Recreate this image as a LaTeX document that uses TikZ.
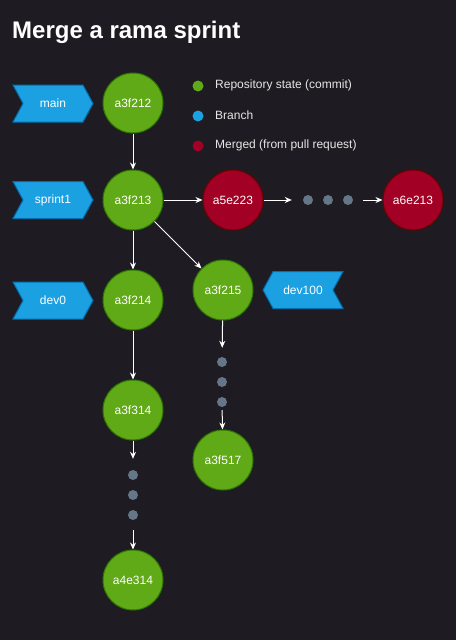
\documentclass[tikz,border=0pt]{standalone}
\usepackage{fontspec}
\setmainfont{Liberation Sans}
\usetikzlibrary{shapes.symbols,arrows.meta}
\definecolor{bgdark}{HTML}{1E1C22}
\definecolor{commitfill}{HTML}{60A917}
\definecolor{commitline}{HTML}{2D7600}
\definecolor{mergefill}{HTML}{A20025}
\definecolor{mergeline}{HTML}{6F0000}
\definecolor{branchfill}{HTML}{1BA1E2}
\definecolor{branchline}{HTML}{006EAF}
\definecolor{dotgray}{HTML}{647687}
\definecolor{legendtext}{HTML}{E6E6E6}

\begin{document}
\begin{tikzpicture}[x=1pt,y=-1pt,>={Stealth[length=7pt,width=6pt]},
    commit/.style={circle,draw=commitline,fill=commitfill,line width=1pt,
      minimum size=60pt,inner sep=0pt,text=white,font=\fontsize{12}{14}\selectfont},
    merged/.style={commit,draw=mergeline,fill=mergefill},
    branch/.style={signal,signal from=west,signal to=east,signal pointer angle=123,
      draw=branchline,fill=branchfill,line width=1pt,minimum width=80pt,minimum height=37pt,
      inner sep=0pt,text=white,font=\fontsize{12}{14}\selectfont},
    branchback/.style={branch,signal from=east,signal to=west},
    dot/.style={circle,fill=dotgray,minimum size=10pt,inner sep=0pt},
    key/.style={circle,minimum size=11pt,inner sep=0pt},
    keytext/.style={anchor=west,inner sep=0pt,text=legendtext,font=\fontsize{12}{14}\selectfont},
    link/.style={->,draw=white,line width=1pt}]
      \useasboundingbox (0,0) rectangle (458,642);
      \fill[white] (0,0) rectangle (458,642);
      \fill[bgdark] (0,0) rectangle (456,640);
      \node[anchor=base west,inner sep=0pt,text=white,font=\fontsize{24}{28}\selectfont\bfseries] (title) at (12,39) {Merge a rama sprint};
      % legend
      \node[key,fill=commitfill] (k1) at (198,86) {};
      \node[key,fill=branchfill] (k2) at (198,116) {};
      \node[key,fill=mergefill] (k3) at (198,146) {};
      \node[keytext] at (215,85) {Repository state (commit)};
      \node[keytext] at (215,115) {Branch};
      \node[keytext] at (215,145) {Merged (from pull request)};
      % branches
      \node[branch] (main) at (53,103.5) {main};
      \node[branch] (sprint1) at (53,200) {sprint1};
      \node[branch] (dev0) at (53,300.5) {dev0};
      \node[branchback] (dev100) at (303,290) {dev100};
      % commits
      \node[commit] (a3f212) at (133,103) {a3f212};
      \node[commit] (a3f213) at (133,200) {a3f213};
      \node[commit] (a3f214) at (133,300) {a3f214};
      \node[commit] (a3f314) at (133,410) {a3f314};
      \node[commit] (a4e314) at (133,580) {a4e314};
      \node[commit] (a3f215) at (223,290) {a3f215};
      \node[commit] (a3f517) at (223,460) {a3f517};
      \node[merged] (a5e223) at (233,200) {a5e223};
      \node[merged] (a6e213) at (413,200) {a6e213};
      \foreach \i/\x in {1/308,2/328,3/348}
        \node[dot] (h\i) at (\x,200) {};
      \foreach \i/\y in {1/362,2/382,3/402}
        \node[dot] (r\i) at (222,\y) {};
      \foreach \i/\y in {1/475,2/495,3/515}
        \node[dot] (m\i) at (133,\y) {};
      % links
      \draw[link] (a3f212) -- (a3f213);
      \draw[link] (a3f213) -- (a5e223);
      \draw[link] (a3f213) -- (a3f214);
      \draw[link] (a3f213) -- (a3f215);
      \draw[link] (a3f214) -- (a3f314);
      \draw[link,shorten >=11pt] (a5e223) -- (h1);
      \draw[link,shorten <=10pt] (h3) -- (a6e213);
      \draw[link,shorten >=11pt] (a3f314) -- (m1);
      \draw[link,shorten <=10pt] (m3) -- (a4e314);
      \draw[link,shorten >=9pt] (a3f215) -- (r1);
      \draw[link,shorten <=3pt] (r3) -- (a3f517);
\end{tikzpicture}
\end{document}
